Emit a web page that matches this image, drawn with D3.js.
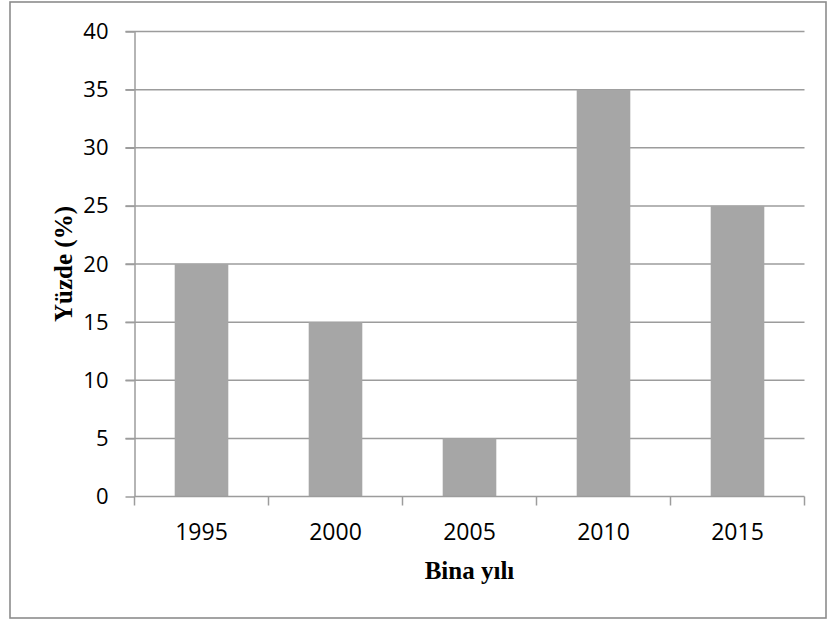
<!DOCTYPE html>
<html>
<head>
<meta charset="utf-8">
<script src="https://cdn.jsdelivr.net/npm/d3@7"></script>
<style>
  html, body { margin: 0; padding: 0; background: #fff; }
  svg { display: block; }
</style>
</head>
<body>
<svg id="chart" width="827" height="619"></svg>
<script>
// Building share by construction year
const years = ["1995", "2000", "2005", "2010", "2015"];
const percents = [20, 15, 5, 35, 25];
const yTicks = [0, 5, 10, 15, 20, 25, 30, 35, 40];

const svg = d3.select("#chart");
const plot = { left: 134.5, right: 804.5, top: 31.5, bottom: 496.5 };

// outer frame
svg.append("rect")
  .attr("x", 10).attr("y", 2)
  .attr("width", 816).attr("height", 616)
  .attr("fill", "#fff")
  .attr("stroke", "#8c8c8c")
  .attr("stroke-width", 1.6);

const x = d3.scaleBand().domain(years).range([plot.left, plot.right]).paddingInner(0).paddingOuter(0);
const y = d3.scaleLinear().domain([0, 40]).range([plot.bottom, plot.top]);

const tickFont = "'Open Sans', 'Noto Sans', sans-serif";
const titleFont = "'Liberation Serif', 'Times New Roman', serif";
const lineColor = "#9c9c9c";

// horizontal gridlines
svg.append("g")
  .selectAll("line")
  .data(yTicks.filter(d => d > 0))
  .join("line")
  .attr("x1", plot.left - 9).attr("x2", plot.right)
  .attr("y1", d => y(d)).attr("y2", d => y(d))
  .attr("stroke", lineColor).attr("stroke-width", 1.5);

// bars
const barW = x.bandwidth() * 0.4;
svg.append("g")
  .selectAll("rect")
  .data(years.map((yr, i) => ({ yr, v: percents[i] })))
  .join("rect")
  .attr("x", d => x(d.yr) + (x.bandwidth() - barW) / 2)
  .attr("y", d => y(d.v))
  .attr("width", barW)
  .attr("height", d => y(0) - y(d.v))
  .attr("fill", "#a6a6a6");

// y axis
const yAxis = svg.append("g")
  .attr("transform", `translate(${plot.left},0)`)
  .call(d3.axisLeft(y).tickValues(yTicks).tickSize(9).tickPadding(17).tickSizeOuter(0));
yAxis.select(".domain").attr("stroke", lineColor).attr("stroke-width", 1.5);
yAxis.selectAll(".tick line").attr("stroke", lineColor).attr("stroke-width", 1.5);
yAxis.selectAll(".tick text")
  .attr("font-family", tickFont).attr("font-size", 22).attr("fill", "#000");

// x axis with ticks on category boundaries
const xAxisG = svg.append("g").attr("transform", `translate(0,${plot.bottom})`);
xAxisG.append("line")
  .attr("x1", plot.left).attr("x2", plot.right)
  .attr("stroke", lineColor).attr("stroke-width", 1.5);
const bounds = years.map(d => x(d)).concat([x(years[years.length - 1]) + x.bandwidth()]);
xAxisG.selectAll("line.tk")
  .data(bounds)
  .join("line")
  .attr("class", "tk")
  .attr("x1", d => d).attr("x2", d => d)
  .attr("y1", 0).attr("y2", 9)
  .attr("stroke", lineColor).attr("stroke-width", 1.5);
xAxisG.selectAll("text")
  .data(years)
  .join("text")
  .attr("x", d => x(d) + x.bandwidth() / 2)
  .attr("y", 43)
  .attr("text-anchor", "middle")
  .attr("font-family", tickFont).attr("font-size", 23).attr("fill", "#000")
  .text(d => d);

// axis titles
svg.append("text")
  .attr("x", (plot.left + plot.right) / 2)
  .attr("y", 579)
  .attr("text-anchor", "middle")
  .attr("font-family", titleFont).attr("font-weight", "bold").attr("font-size", 25)
  .attr("fill", "#000")
  .text("Bina yılı");

svg.append("text")
  .attr("transform", `translate(72,${(plot.top + plot.bottom) / 2}) rotate(-90)`)
  .attr("text-anchor", "middle")
  .attr("font-family", titleFont).attr("font-weight", "bold").attr("font-size", 25)
  .attr("fill", "#000")
  .text("Yüzde (%)");
</script>
</body>
</html>
